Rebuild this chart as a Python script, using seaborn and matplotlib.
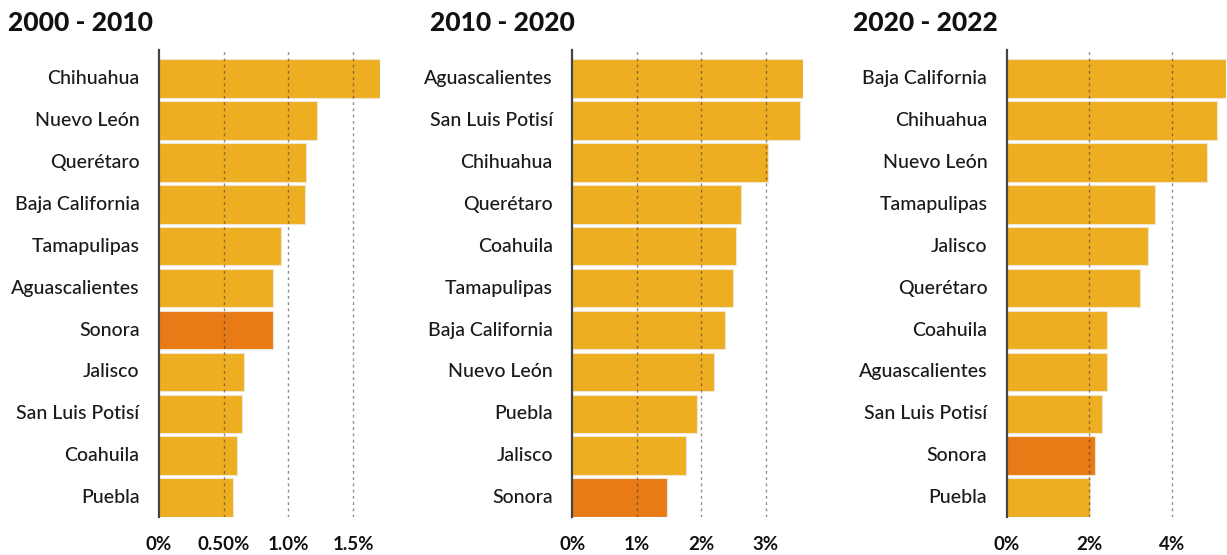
import matplotlib
matplotlib.use("Agg")
import matplotlib.pyplot as plt
import seaborn as sns

# datos: crecimiento promedio anual por periodo (%)
estados_2000_2010 = ["Chihuahua", "Nuevo León", "Querétaro", "Baja California", "Tamapulipas",
                     "Aguascalientes", "Sonora", "Jalisco", "San Luis Potisí", "Coahuila", "Puebla"]
valores_2000_2010 = [1.71, 1.22, 1.14, 1.13, 0.94, 0.885, 0.88, 0.655, 0.645, 0.60, 0.57]

estados_2010_2020 = ["Aguascalientes", "San Luis Potisí", "Chihuahua", "Querétaro", "Coahuila",
                     "Tamapulipas", "Baja California", "Nuevo León", "Puebla", "Jalisco", "Sonora"]
valores_2010_2020 = [3.57, 3.53, 3.03, 2.62, 2.53, 2.49, 2.37, 2.19, 1.94, 1.76, 1.47]

estados_2020_2022 = ["Baja California", "Chihuahua", "Nuevo León", "Tamapulipas", "Jalisco",
                     "Querétaro", "Coahuila", "Aguascalientes", "San Luis Potisí", "Sonora", "Puebla"]
valores_2020_2022 = [5.31, 5.08, 4.84, 3.60, 3.42, 3.23, 2.42, 2.43, 2.30, 2.14, 2.02]

titulos = ["2000 - 2010", "2010 - 2020", "2020 - 2022"]
ticks = [[0, 0.5, 1.0, 1.5], [0, 1, 2, 3], [0, 2, 4]]
tick_labels = [["0%", "0.50%", "1.0%", "1.5%"], ["0%", "1%", "2%", "3%"], ["0%", "2%", "4%"]]

AMARILLO = "#EEAE22"
NARANJA = "#E87B15"

sns.set_style("white")
plt.rcParams["font.family"] = ["Lato", "DejaVu Sans"]

fig = plt.figure(figsize=(12.27, 5.55), dpi=100)

# posiciones de los ejes (left, width) y de los títulos
ejes = [(0.1296, 0.1802), (0.4664, 0.1878), (0.8205, 0.1787)]
x_titulo = [8 / 1227, 430 / 1227, 853 / 1227]

paneles = [(estados_2000_2010, valores_2000_2010),
           (estados_2010_2020, valores_2010_2020),
           (estados_2020_2022, valores_2020_2022)]

for i, (estados, valores) in enumerate(paneles):
    left, width = ejes[i]
    ax = fig.add_axes([left, 0.0685, width, 0.8415])
    colores = [NARANJA if e == "Sonora" else AMARILLO for e in estados]
    sns.barplot(x=valores, y=estados, hue=estados, palette=colores, legend=False,
                saturation=1, width=0.92, edgecolor="#efe6d2", linewidth=0.8,
                ax=ax, zorder=2)

    ax.set_xlim(0, max(valores))
    ax.set_ylim(10.46, -0.68)
    ax.set_xticks(ticks[i])
    ax.set_xticklabels(tick_labels[i], fontsize=13.5, fontweight="bold", color="#111111")
    ax.tick_params(axis="x", length=0, pad=14)
    ax.tick_params(axis="y", length=0, pad=14)
    for lbl in ax.get_yticklabels():
        lbl.set_fontsize(14)
        lbl.set_fontweight("medium")
        lbl.set_color("#1a1a1a")
        lbl.set_va("center")
    ax.set_xlabel("")
    ax.set_ylabel("")

    # líneas guía punteadas sobre las barras
    for t in ticks[i][1:]:
        ax.axvline(t, color="#333333", alpha=0.55, lw=1.0, ls=(0, (2, 2.5)), zorder=3)

    for s in ["top", "right", "bottom"]:
        ax.spines[s].set_visible(False)
    ax.spines["left"].set_color("#444444")
    ax.spines["left"].set_linewidth(1.6)
    ax.spines["left"].set_zorder(4)

    fig.text(x_titulo[i], 0.958, titulos[i], fontsize=19, fontweight="black",
             color="#111111", ha="left", va="center")

fig.savefig("out.png", dpi=100)
